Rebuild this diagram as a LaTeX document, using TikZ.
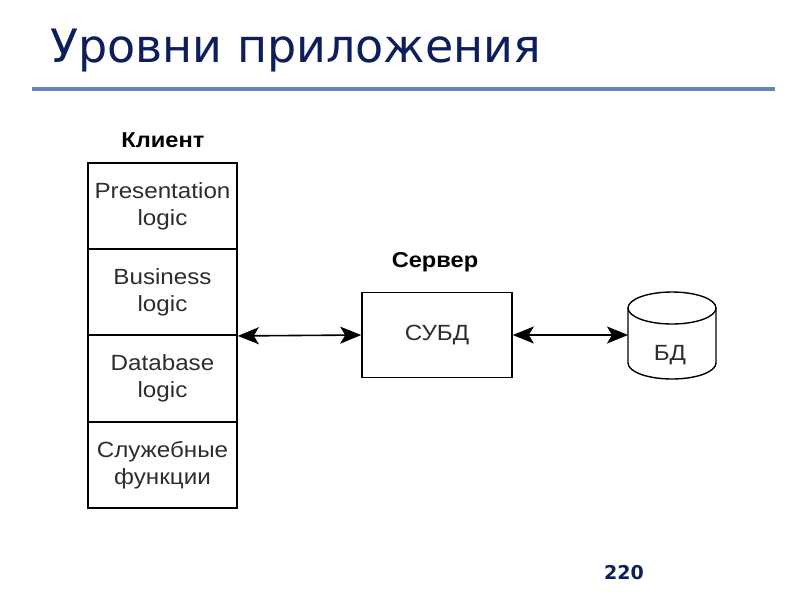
\documentclass[tikz,border=0pt]{standalone}
\usepackage{fontspec}
\setmainfont{Liberation Sans}[FakeStretch=1.1]
\newfontfamily\titlefont{DejaVu Sans}
\usetikzlibrary{arrows.meta}
\definecolor{navy}{RGB}{14,30,92}
\definecolor{rulecol}{RGB}{104,133,183}
\definecolor{ink}{RGB}{45,45,45}
\tikzset{
  layer/.style={draw,line width=1.6pt,minimum width=149pt,minimum height=86.25pt,
    align=center,text=ink,font=\fontsize{22}{27}\selectfont},
  head/.style={font=\fontsize{21.5}{24}\selectfont\bfseries},
  link/.style={line width=1.6pt,
    {Stealth[length=21pt,width=17pt,inset=5pt]}-{Stealth[length=21pt,width=17pt,inset=5pt]}},
}
\begin{document}
\begin{tikzpicture}[x=1pt,y=-1pt]
\useasboundingbox (0,0) rectangle (800,600);
\node[anchor=base west,inner sep=0,text=navy,font=\titlefont\fontsize{46}{50}\selectfont] (t) at (50,62) {Уровни приложения};
\draw[rulecol,line width=4pt] (32,89) -- (775,89);

\node[head] (c) at (163,140) {Клиент};
\node[layer] (p) at (162.5,206) {Presentation\\logic};
\node[layer] (b) at (162.5,292) {Business\\logic};
\node[layer] (d) at (162.5,378.5) {Database\\logic};
\node[layer] (f) at (162.5,465) {Служебные\\функции};

\node[head] (h) at (435,262) {Сервер};
\node[layer,minimum width=150pt,minimum height=85pt] (s) at (437,335) {СУБД};

% database drum
\draw[line width=1.4pt] (672,308) ellipse [x radius=44,y radius=16];
\draw[line width=1.4pt] (628,308) -- (628,363) arc[start angle=180,end angle=0,x radius=44,y radius=16] -- (716,308);
\node[text=ink,font=\fontsize{22}{27}\selectfont] (db) at (670,355) {БД};
\coordinate (dbw) at (628,335);

\draw[link] (b.south east) -- (s.west);
\draw[link] (s.east) -- (dbw);

\node[text=navy,font=\titlefont\bfseries\fontsize{19}{22}\selectfont] (n) at (624,573) {220};
\end{tikzpicture}
\end{document}
